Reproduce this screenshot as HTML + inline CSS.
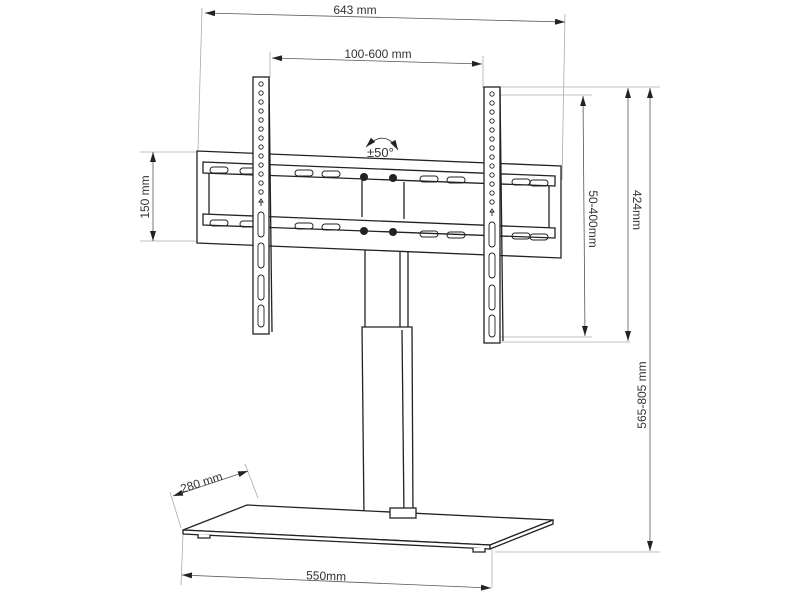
<!DOCTYPE html>
<html><head><meta charset="utf-8"><style>html,body{margin:0;padding:0;background:#fff}svg{display:block}</style></head>
<body>
<svg width="800" height="600" viewBox="0 0 800 600" xmlns="http://www.w3.org/2000/svg" font-family="Liberation Sans, sans-serif">
<defs>
<marker id="a" viewBox="0 0 10 6" refX="10" refY="3" markerWidth="11" markerHeight="6" orient="auto-start-reverse" markerUnits="userSpaceOnUse"><path d="M0,0L10,3L0,6z" fill="#222"/></marker>
</defs>
<g stroke="#aaa" stroke-width="0.8" fill="none">
<line x1="202" y1="8" x2="198" y2="150"/>
<line x1="565" y1="14" x2="562" y2="180"/>
<line x1="270" y1="52" x2="270" y2="78"/>
<line x1="483" y1="56" x2="483" y2="88"/>
<line x1="140" y1="152" x2="197" y2="152"/>
<line x1="140" y1="241" x2="197" y2="241"/>
<line x1="500" y1="87" x2="660" y2="87"/>
<line x1="500" y1="95" x2="592" y2="95"/>
<line x1="500" y1="337" x2="592" y2="337"/>
<line x1="500" y1="342" x2="630" y2="342"/>
<line x1="495" y1="552" x2="660" y2="552"/>
<line x1="183" y1="535" x2="181" y2="585"/>
<line x1="492" y1="550" x2="492" y2="588"/>
<line x1="170" y1="492" x2="181" y2="528"/>
<line x1="245" y1="464" x2="258" y2="498"/>
</g>
<g stroke="#555" stroke-width="0.8" fill="none">
<line x1="205" y1="13" x2="565" y2="22" marker-start="url(#a)" marker-end="url(#a)"/>
<line x1="272" y1="58" x2="482" y2="64" marker-start="url(#a)" marker-end="url(#a)"/>
<line x1="153" y1="152" x2="153" y2="241" marker-start="url(#a)" marker-end="url(#a)"/>
<line x1="583" y1="96" x2="585" y2="336" marker-start="url(#a)" marker-end="url(#a)"/>
<line x1="628" y1="88" x2="628" y2="341" marker-start="url(#a)" marker-end="url(#a)"/>
<line x1="650" y1="88" x2="650" y2="551" marker-start="url(#a)" marker-end="url(#a)"/>
<line x1="182" y1="575" x2="491" y2="588" marker-start="url(#a)" marker-end="url(#a)"/>
<line x1="173" y1="496" x2="248" y2="471" marker-start="url(#a)" marker-end="url(#a)"/>
</g>
<g font-size="12" fill="#333">
<text x="355" y="14" text-anchor="middle">643 mm</text>
<text x="378" y="58" text-anchor="middle">100-600 mm</text>
<text transform="translate(149,197) rotate(-90)" text-anchor="middle">150 mm</text>
<text transform="translate(589,219) rotate(90)" text-anchor="middle">50-400mm</text>
<text transform="translate(633,210) rotate(90)" text-anchor="middle">424mm</text>
<text transform="translate(646,395) rotate(-90)" text-anchor="middle">565-805 mm</text>
<text transform="translate(182,493) rotate(-18)">280 mm</text>
<text x="326" y="580" text-anchor="middle" transform="rotate(2 326 580)">550mm</text>
<text x="367" y="157" font-size="13">±50°</text>
</g>
<path d="M366,147 Q385,128 398,150" stroke="#333" fill="none" stroke-width="0.8" marker-start="url(#a)" marker-end="url(#a)"/>
<g stroke="#222" stroke-width="1.3" fill="#fff">
<rect x="365" y="250" width="43" height="78"/>
<line x1="400" y1="250" x2="400" y2="328"/>
<polygon points="362,327 412,327 413,517 364,517"/>
<line x1="402" y1="330" x2="404" y2="517"/>
<polygon points="183,530 247,505 553,520 490,545"/>
<polygon points="183,530 490,545 490,549 183,534"/>
<polygon points="490,545 553,520 553,524 490,549"/>
<rect x="390" y="508" width="26" height="10"/>
<path d="M198,534 v4 h12 v-3 M473,548 v4 h12 v-4"/>
<polygon points="197,151 561,166 561,258 197,243"/>
<polygon points="203,162 555,176 555,186 203,173"/>
<polygon points="203,214 555,228 555,238 203,225"/>
<line x1="209" y1="173" x2="209" y2="214"/>
<line x1="549" y1="186" x2="549" y2="228"/>
<line x1="362" y1="180" x2="362" y2="217"/>
<line x1="404" y1="182" x2="404" y2="219"/>
</g>
<g stroke="#222" stroke-width="1" fill="none">
<rect x="210" y="167" width="18" height="6" rx="3"/><rect x="240" y="168" width="18" height="6" rx="3"/><rect x="295" y="170" width="18" height="6" rx="3"/><rect x="322" y="171" width="18" height="6" rx="3"/>
<rect x="420" y="176" width="18" height="6" rx="3"/><rect x="447" y="177" width="18" height="6" rx="3"/><rect x="512" y="179" width="18" height="6" rx="3"/><rect x="530" y="180" width="18" height="6" rx="3"/>
<rect x="210" y="220" width="18" height="6" rx="3"/><rect x="240" y="221" width="18" height="6" rx="3"/><rect x="295" y="223" width="18" height="6" rx="3"/><rect x="322" y="224" width="18" height="6" rx="3"/>
<rect x="420" y="231" width="18" height="6" rx="3"/><rect x="447" y="232" width="18" height="6" rx="3"/><rect x="512" y="233" width="18" height="6" rx="3"/><rect x="530" y="234" width="18" height="6" rx="3"/>
</g>
<g fill="#222"><circle cx="364" cy="177" r="4"/><circle cx="393" cy="178" r="4"/><circle cx="364" cy="231" r="4"/><circle cx="393" cy="232" r="4"/></g>
<g stroke="#222" stroke-width="1.3" fill="#fff">
<rect x="253" y="77" width="16" height="257"/><line x1="269" y1="79" x2="272" y2="332"/>
<rect x="484" y="87" width="16" height="256"/><line x1="500" y1="89" x2="503" y2="341"/>
</g>
<g stroke="#222" stroke-width="0.9" fill="none">
<g id="h"><circle cx="261" cy="84" r="2.2"/><circle cx="261" cy="93" r="2.2"/><circle cx="261" cy="102" r="2.2"/><circle cx="261" cy="111" r="2.2"/><circle cx="261" cy="120" r="2.2"/><circle cx="261" cy="129" r="2.2"/><circle cx="261" cy="138" r="2.2"/><circle cx="261" cy="147" r="2.2"/><circle cx="261" cy="156" r="2.2"/><circle cx="261" cy="165" r="2.2"/><circle cx="261" cy="174" r="2.2"/><circle cx="261" cy="183" r="2.2"/><circle cx="261" cy="192" r="2.2"/><path d="M261,199 l-2,3 h4 z M261,202 v4"/><rect x="258" y="212" width="6" height="25" rx="3"/><rect x="258" y="243" width="6" height="25" rx="3"/><rect x="258" y="275" width="6" height="25" rx="3"/><rect x="258" y="305" width="6" height="22" rx="3"/></g>
<use href="#h" transform="translate(231,10)"/>
</g>
</svg>
</body></html>
